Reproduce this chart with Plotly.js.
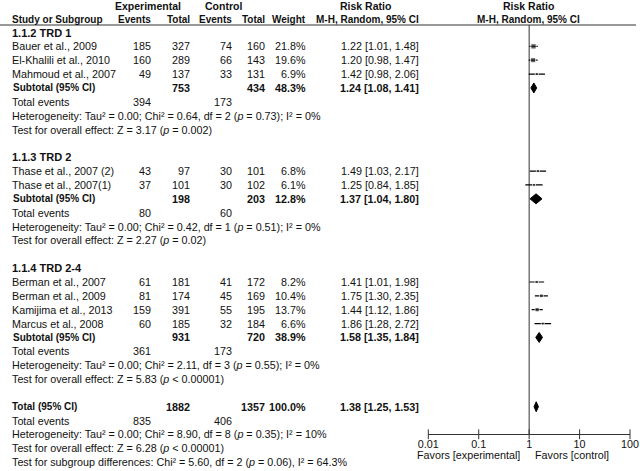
<!DOCTYPE html>
<html>
<head>
<meta charset="utf-8">
<script src="https://cdn.plot.ly/plotly-3.0.1.min.js"></script>
<style>html,body{margin:0;padding:0;background:#fff;}#chart{width:640px;height:471px;}</style>
</head>
<body>
<div id="chart"></div>
<script>
// ---------------- DATA ----------------
const groups = ["1.1.2 TRD 1", "1.1.3 TRD 2", "1.1.4 TRD 2-4"];
const studies = ["Bauer et al., 2009", "El-Khalili et al., 2010", "Mahmoud et al., 2007",
                 "Thase et al., 2007 (2)", "Thase et al., 2007(1)",
                 "Berman et al., 2007", "Berman et al., 2009", "Kamijima et al., 2013", "Marcus et al., 2008"];
const studyGroup = [0, 0, 0, 1, 1, 2, 2, 2, 2];
const expEvents = [185, 160, 49, 43, 37, 61, 81, 159, 60];
const expTotal  = [327, 289, 137, 97, 101, 181, 174, 391, 185];
const ctlEvents = [74, 66, 33, 30, 30, 41, 45, 55, 32];
const ctlTotal  = [160, 143, 131, 101, 102, 172, 169, 195, 184];
const weights   = [21.8, 19.6, 6.9, 6.8, 6.1, 8.2, 10.4, 13.7, 6.6];
const rr        = [1.22, 1.20, 1.42, 1.49, 1.25, 1.41, 1.75, 1.44, 1.86];
const rrLow     = [1.01, 0.98, 0.98, 1.03, 0.84, 1.01, 1.30, 1.12, 1.28];
const rrHigh    = [1.48, 1.47, 2.06, 2.17, 1.85, 1.98, 2.35, 1.86, 2.72];

const subExpTotal  = [753, 198, 931];
const subCtlTotal  = [434, 203, 720];
const subWeight    = [48.3, 12.8, 38.9];
const subExpEvents = [394, 80, 361];
const subCtlEvents = [173, 60, 173];
const subRR   = [1.24, 1.37, 1.58];
const subLow  = [1.08, 1.04, 1.35];
const subHigh = [1.41, 1.80, 1.84];
const subTau  = [0.00, 0.00, 0.00];
const subChi  = [0.64, 0.42, 2.11];
const subDf   = [2, 1, 3];
const subHetP = [0.73, 0.51, 0.55];
const subI2   = [0, 0, 0];
const subZ    = [3.17, 2.27, 5.83];
const subZPOp = ["=", "=", "<"];
const subZP   = ["0.002", "0.02", "0.00001"];

const totExpTotal = 1882, totCtlTotal = 1357, totWeight = 100.0;
const totRR = 1.38, totLow = 1.25, totHigh = 1.53;
const totExpEvents = 835, totCtlEvents = 406;
const totTau = 0.00, totChi = 8.90, totDf = 8, totHetP = 0.35, totI2 = 10;
const totZ = 6.28, totZPOp = "<", totZP = "0.00001";
const sgChi = 5.60, sgDf = 2, sgP = 0.06, sgI2 = 64.3;

const tickVals = [0.01, 0.1, 1, 10, 100];
const tickText = ["0.01", "0.1", "1", "10", "100"];

// ---------------- LAYOUT HELPERS ----------------
const W = 640, H = 471, Y0 = 32.5, S = 13.86, AXIS_PX = 434.3, TOPLINE_PX = 25;
const FONT = "Arial, 'Liberation Sans', sans-serif";
const FS = 10.75;
const px = x => x / W;
const py = y => (H - y) / H;
const rowAt = p => (p - Y0) / S;
const col = {label: 11, expEv: 152, expTot: 191, ctlEv: 233, ctlTot: 266, weight: 307, rr: 420};
const ann = [];
function cell(x, row, text, anchor, opts) {
  opts = opts || {};
  ann.push({x: px(x), y: row, xref: 'paper', yref: opts.yref || 'y',
    text: opts.bold ? '<b>' + text + '</b>' : text,
    showarrow: false, xanchor: anchor, yanchor: 'middle', borderpad: 0,
    font: {family: FONT, size: opts.size || FS, color: '#111'}});
}
const op = o => o === '<' ? '&lt;' : o;
const rrTxt = (a, l, h) => `${a.toFixed(2)} [${l.toFixed(2)}, ${h.toFixed(2)}]`;
const hetTxt = (t, c, d, p, i) => `Heterogeneity: Tau² = ${t.toFixed(2)}; Chi² = ${c.toFixed(2)}, df = ${d} (<i>p</i> = ${p.toFixed(2)}); I² = ${i}%`;
const zTxt = (z, o, p) => `Test for overall effect: Z = ${z.toFixed(2)} (<i>p</i> ${op(o)} ${p})`;

// headers
const H1 = {yref: 'paper', bold: true, size: 10.5};
const H2 = {yref: 'paper', bold: true, size: 10};
cell(148, py(6.5), "Experimental", 'center', H1);
cell(223, py(6.5), "Control", 'center', H1);
cell(365, py(6.5), "Risk Ratio", 'center', H1);
cell(528.5, py(6.5), "Risk Ratio", 'center', H1);
cell(col.label, py(19.5), "Study or Subgroup", 'left', H2);
cell(col.expEv, py(19.5), "Events", 'right', H2);
cell(col.expTot, py(19.5), "Total", 'right', H2);
cell(col.ctlEv, py(19.5), "Events", 'right', H2);
cell(col.ctlTot, py(19.5), "Total", 'right', H2);
cell(col.weight, py(19.5), "Weight", 'right', H2);
cell(col.rr, py(19.5), "M-H, Random, 95% CI", 'right', H2);
cell(528.5, py(19.5), "M-H, Random, 95% CI", 'center', H2);

// rows
const pts = {x: [], y: [], w: []};
const ci = {x: [], y: []};
const dia = {x: [], y: []};
const DH = 0.36;
function diamond(est, lo, hi, row) {
  dia.x.push(lo, est, hi, est, lo, null);
  dia.y.push(row, row - DH, row, row + DH, row, null);
}
const B = {bold: true};
let r = 0;
groups.forEach((g, gi) => {
  cell(col.label, r, g, 'left', {bold: true, size: 11}); r++;
  studies.forEach((s, i) => {
    if (studyGroup[i] !== gi) return;
    cell(col.label, r, s, 'left');
    cell(col.expEv, r, String(expEvents[i]), 'right');
    cell(col.expTot, r, String(expTotal[i]), 'right');
    cell(col.ctlEv, r, String(ctlEvents[i]), 'right');
    cell(col.ctlTot, r, String(ctlTotal[i]), 'right');
    cell(col.weight, r, weights[i].toFixed(1) + '%', 'right');
    cell(col.rr, r, rrTxt(rr[i], rrLow[i], rrHigh[i]), 'right');
    pts.x.push(rr[i]); pts.y.push(r); pts.w.push(weights[i]);
    ci.x.push(rrLow[i], rrHigh[i], null); ci.y.push(r, r, null);
    r++;
  });
  cell(col.label + 1, r, "Subtotal (95% CI)", 'left', {bold: true, size: 10});
  cell(col.expTot, r, String(subExpTotal[gi]), 'right', B);
  cell(col.ctlTot, r, String(subCtlTotal[gi]), 'right', B);
  cell(col.weight, r, subWeight[gi].toFixed(1) + '%', 'right', B);
  cell(col.rr, r, rrTxt(subRR[gi], subLow[gi], subHigh[gi]), 'right', B);
  diamond(subRR[gi], subLow[gi], subHigh[gi], r);
  r++;
  cell(col.label, r, "Total events", 'left');
  cell(col.expEv, r, String(subExpEvents[gi]), 'right');
  cell(col.ctlEv, r, String(subCtlEvents[gi]), 'right');
  r++;
  cell(col.label, r, hetTxt(subTau[gi], subChi[gi], subDf[gi], subHetP[gi], subI2[gi]), 'left'); r++;
  cell(col.label, r, zTxt(subZ[gi], subZPOp[gi], subZP[gi]), 'left'); r++;
  r++;
});
cell(col.label, r, "Total (95% CI)", 'left', {bold: true, size: 10});
cell(col.expTot, r, String(totExpTotal), 'right', B);
cell(col.ctlTot, r, String(totCtlTotal), 'right', B);
cell(col.weight, r, totWeight.toFixed(1) + '%', 'right', B);
cell(col.rr, r, rrTxt(totRR, totLow, totHigh), 'right', B);
diamond(totRR, totLow, totHigh, r);
r++;
cell(col.label, r, "Total events", 'left');
cell(col.expEv, r, String(totExpEvents), 'right');
cell(col.ctlEv, r, String(totCtlEvents), 'right');
r++;
cell(col.label, r, hetTxt(totTau, totChi, totDf, totHetP, totI2), 'left'); r++;
cell(col.label, r, zTxt(totZ, totZPOp, totZP), 'left'); r++;
cell(col.label, r, `Test for subgroup differences: Chi² = ${sgChi.toFixed(2)}, df = ${sgDf} (<i>p</i> = ${sgP.toFixed(2)}), I² = ${sgI2.toFixed(1)}%`, 'left'); r++;

// axis captions
cell(521, py(455), "Favors [experimental]", 'right', {yref: 'paper'});
cell(534, py(455), "Favors [control]", 'left', {yref: 'paper'});

const axisRow = rowAt(AXIS_PX);
const traces = [
  // line of no effect
  {type: 'scatter', mode: 'lines', x: [1, 1], y: [rowAt(TOPLINE_PX), axisRow], hoverinfo: 'skip',
   line: {color: '#333', width: 1}},
  // confidence intervals
  {type: 'scatter', mode: 'lines', x: ci.x, y: ci.y, hoverinfo: 'skip', connectgaps: false,
   line: {color: '#000', width: 1.2}},
  // study estimates
  {type: 'scatter', mode: 'markers', x: pts.x, y: pts.y, hoverinfo: 'skip',
   marker: {symbol: 'square', color: '#222', size: pts.w.map(w => 1.15 * Math.sqrt(w))}},
  // pooled diamonds
  {type: 'scatter', mode: 'lines', x: dia.x, y: dia.y, fill: 'toself', fillcolor: '#000',
   line: {color: '#000', width: 1}, hoverinfo: 'skip', connectgaps: false},
  // axis tick marks crossing the axis line
  {type: 'scatter', mode: 'markers', x: tickVals, y: tickVals.map(() => axisRow), hoverinfo: 'skip', cliponaxis: false,
   marker: {symbol: 'line-ns', size: 7, line: {color: '#333', width: 1}}}
];

const layout = {
  width: W, height: H, margin: {l: 0, r: 0, t: 0, b: 0}, showlegend: false,
  paper_bgcolor: '#fff', plot_bgcolor: 'rgba(0,0,0,0)',
  xaxis: {type: 'log', range: [-2, 2], domain: [px(428.3), px(630)], anchor: 'free', position: py(AXIS_PX),
          showline: true, linecolor: '#333', linewidth: 1, ticks: '', tickvals: tickVals, ticktext: tickText,
          showgrid: false, zeroline: false, tickfont: {family: FONT, size: FS, color: '#111'}, fixedrange: true},
  yaxis: {range: [(H - Y0) / S, -Y0 / S], domain: [0, 1], visible: false, fixedrange: true},
  annotations: ann,
  shapes: [
    {type: 'line', xref: 'paper', yref: 'paper', x0: 0, x1: px(636), y0: py(TOPLINE_PX), y1: py(TOPLINE_PX),
     line: {color: '#333', width: 1}}
  ]
};
Plotly.newPlot('chart', traces, layout, {staticPlot: true, displayModeBar: false});
</script>
</body>
</html>
